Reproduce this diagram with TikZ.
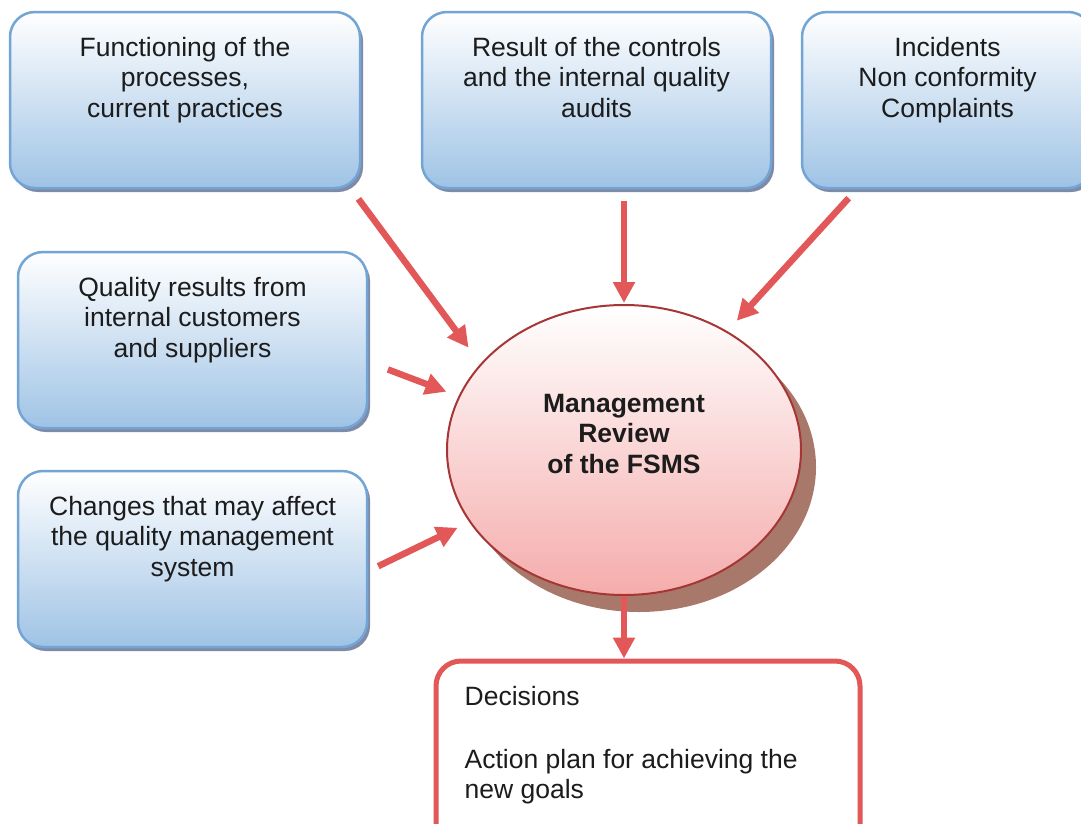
\documentclass[tikz,border=0pt]{standalone}
\usepackage{fontspec}
\setmainfont{Liberation Sans}
\usetikzlibrary{arrows.meta,positioning,shapes.geometric,shadows,calc}
\definecolor{BoxBlue}{HTML}{9FC3E5}
\definecolor{BoxLine}{HTML}{72A5D6}
\definecolor{BoxShade}{HTML}{7F8AA6}
\definecolor{FlowRed}{HTML}{E25757}
\definecolor{ReviewPink}{HTML}{F5ACAC}
\definecolor{ReviewLine}{HTML}{A63636}
\definecolor{ReviewShade}{HTML}{A8796B}
\definecolor{InkGray}{HTML}{1C1C1C}

\begin{document}
\begin{tikzpicture}[x=1pt, y=-1pt,
  inbox/.style={draw=BoxLine, line width=2.5pt, rounded corners=25pt, top color=white, bottom color=BoxBlue, minimum height=176pt, general shadow={shadow xshift=3pt, shadow yshift=-4pt, fill=BoxShade}},
  intext/.style={anchor=north, inner sep=0pt, align=center, text=InkGray, font=\fontsize{26.5}{30.5}\selectfont},
  review/.style={ellipse, draw=ReviewLine, line width=2pt, top color=white, bottom color=ReviewPink, minimum width=354pt, minimum height=290pt, general shadow={shadow xshift=15pt, shadow yshift=-17pt, fill=ReviewShade}},
  outbox/.style={draw=FlowRed, line width=5pt, rounded corners=25pt, fill=white, minimum width=424pt, minimum height=220pt},
  flow/.style={draw=FlowRed, line width=6.5pt, -{Triangle[length=21pt,width=21pt]}}
]
\path[use as bounding box, fill=white] (0,0) rectangle (1081,823);

% inputs
\node[inbox, minimum width=350pt] (proc) at (185,100) {};
\node[inbox, minimum width=349pt] (ctl) at (596.5,100) {};
\node[inbox, minimum width=291pt] (inc) at (947.5,100) {};
\node[inbox, minimum width=349pt] (qual) at (192.5,340) {};
\node[inbox, minimum width=349pt] (chg) at (192.5,559) {};

\node[intext, below=26pt of proc.north] (procT) {Functioning of the\\processes,\\current practices};
\node[intext, below=26pt of ctl.north] (ctlT) {Result of the controls\\and the internal quality\\audits};
\node[intext, below=26pt of inc.north] (incT) {Incidents\\Non conformity\\Complaints};
\node[intext, below=26pt of qual.north] (qualT) {Quality results from\\internal customers\\and suppliers};
\node[intext, below=26pt of chg.north] (chgT) {Changes that may affect\\the quality management\\system};

% review and output
\node[review] (rv) at (624,450) {};
\node[intext, font=\fontsize{26.5}{30.5}\selectfont\bfseries] (rvT) at ([yshift=56pt]rv.center) {Management\\Review\\of the FSMS};

\node[outbox] (dec) at (648,771) {};
\node[intext, anchor=north west, align=left, below right=28pt and 31pt of dec.north west] (decT) {Decisions\\[32pt]Action plan for achieving the\\new goals};

% arrows
\draw[flow, shorten <=12pt, shorten >=20pt] ([xshift=-10pt]proc.south east) -- (rv.149);
\draw[flow, shorten <=12pt, shorten >=1pt] (ctl.south -| rv.north) -- (rv.north);
\draw[flow, shorten <=12pt, shorten >=14pt] ([xshift=56pt]inc.south west) -- (rv.49);
\draw[flow, shorten <=21pt, shorten >=13pt] ([yshift=-22pt]qual.east) -- (rv.162);
\draw[flow, shorten <=11pt, shorten >=13pt] ([yshift=-12pt]chg.east) -- (rv.205);
\draw[flow] (rv.south) -- (rv.south |- dec.north);
\end{tikzpicture}
\end{document}
